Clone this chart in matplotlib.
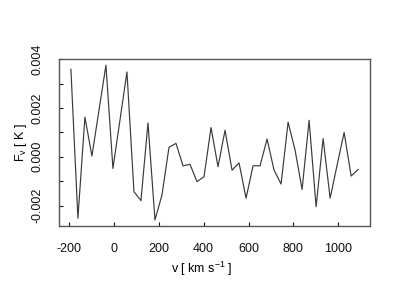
import numpy as np
import matplotlib
matplotlib.use("Agg")
import matplotlib.pyplot as plt

plt.rcParams['font.family'] = ['Liberation Sans', 'DejaVu Sans']
plt.rcParams['mathtext.default'] = 'regular'
plt.rcParams['axes.unicode_minus'] = False

# spectrum channels (km/s) and flux (K)
v_start, v_step = -191.0, 31.2
flux = [0.00359, -0.00252, 0.00163, 0.00003, 0.00189, 0.00376, -0.00048, 0.00150,
        0.00348, -0.00143, -0.00180, 0.00139, -0.00259, -0.00157, 0.00039, 0.00055,
        -0.00037, -0.00031, -0.00102, -0.00082, 0.00120, -0.00041, 0.00109, -0.00055,
        -0.00025, -0.00170, -0.00037, -0.00037, 0.00073, -0.00055, -0.00112, 0.00142,
        0.00027, -0.00134, 0.00150, -0.00205, 0.00075, -0.00170, -0.00034, 0.00100,
        -0.00079, -0.00052]
vel = v_start + v_step * np.arange(len(flux))

xticks = [-200, 0, 200, 400, 600, 800, 1000]
yticks = [-0.002, -0.001, 0.000, 0.001, 0.002, 0.003, 0.004]
ylabels = ['-0.002', '', '0.000', '', '0.002', '', '0.004']

fig = plt.figure(figsize=(4, 3), dpi=100)
ax = fig.add_axes([0.1475, 0.2467, 0.7775, 0.5556])
ax.plot(vel, flux, color='#3a3a3a', lw=0.85)

ax.set_xlim(-244, 1141)
ax.set_ylim(-0.00284, 0.004)
ax.set_xticks(xticks)
ax.set_xticklabels([str(t) for t in xticks])
ax.set_yticks(yticks)
ax.set_yticklabels(ylabels, rotation=90, va='center')
ax.tick_params(direction='in', length=3, width=0.8, labelsize=9, colors='#111111')
ax.tick_params(axis='x', pad=12.5)
ax.tick_params(axis='y', pad=11)
for s in ax.spines.values():
    s.set_color('#555555')
    s.set_linewidth(1.0)

ax.set_xlabel('v [ km s$^{-1}$ ]', fontsize=9)
ax.set_ylabel('F$_v$ [ K ]', fontsize=9)
ax.xaxis.set_label_coords(0.46, -0.205)
ax.yaxis.set_label_coords(-0.095, 0.5)

fig.savefig('out.png', dpi=100)
